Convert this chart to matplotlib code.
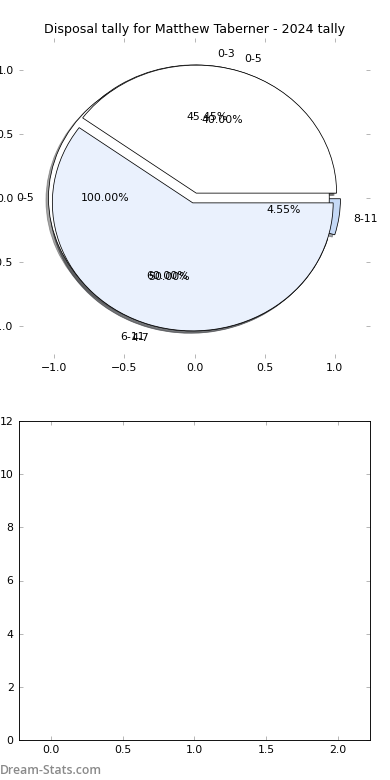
import matplotlib
matplotlib.use("Agg")
import matplotlib.pyplot as plt

# ---- data ----
title = "Disposal tally for Matthew Taberner - 2024 tally"
pie_a_labels = ['0-3', '4-7', '8-11']
pie_a_values = [10, 11, 1]
pie_c_labels = ['0-5']
pie_c_values = [1]
pie_b_labels = ['0-5', '6-11']
pie_b_values = [2, 3]
pie_ticks = [-1.0, -0.5, 0.0, 0.5, 1.0]
bar_xticks = [0.0, 0.5, 1.0, 1.5, 2.0]
bar_yticks = [0, 2, 4, 6, 8, 10, 12]

palette = ['#ffffff', '#eaf1fd', '#c5d9f6']
tick_grey = '#b0b0b0'

plt.rcParams['font.family'] = ['DejaVu Sans']
plt.rcParams['font.size'] = 12

fig = plt.figure(figsize=(6, 12), dpi=65, facecolor='white')

ax = fig.add_axes([19/390, (780-358)/780, 351/390, 320/780])
ax2 = fig.add_axes([19/390, 40/780, 351/390, 319/780])


def draw_pie(values, labels):
    ax.pie(values, labels=labels, explode=[0.04]*len(values),
           colors=palette[:len(values)], autopct='%1.2f%%', shadow=True,
           startangle=0, counterclock=True,
           wedgeprops={'edgecolor': 'black', 'linewidth': 0.85},
           textprops={'fontsize': 12})


draw_pie(pie_a_values, pie_a_labels)
draw_pie(pie_c_values, pie_c_labels)
draw_pie(pie_b_values, pie_b_labels)

ax.set_aspect('auto')
ax.set_xlim(-1.25, 1.25)
ax.set_ylim(-1.25, 1.25)
ax.set_frame_on(False)
ax.set_xticks(pie_ticks)
ax.set_yticks(pie_ticks)
ax.set_xticklabels([f"{t:.1f}".replace('-', '\u2212') for t in pie_ticks])
ax.set_yticklabels([f"{t:.1f}".replace('-', '\u2212') for t in pie_ticks])
for a in (ax, ax2):
    a.tick_params(direction='in', length=4, width=1, color=tick_grey,
                  top=True, right=True, labelsize=12, pad=6)
ax.set_title(title, fontsize=14, pad=5)

ax2.set_xlim(-0.223, 2.226)
ax2.set_ylim(0, 12)
ax2.set_xticks(bar_xticks)
ax2.set_yticks(bar_yticks)
ax2.set_xticklabels([f"{t:.1f}" for t in bar_xticks])
for s in ax2.spines.values():
    s.set_color('black')
    s.set_linewidth(1)

fig.text(0.0, 1 - 770/780, "Dream-Stats.com", fontsize=13.5, color='#8a8a8a',
         family=['Open Sans', 'DejaVu Sans'], fontweight='semibold',
         ha='left', va='center')

fig.savefig("out.png", dpi=65, facecolor='white')
